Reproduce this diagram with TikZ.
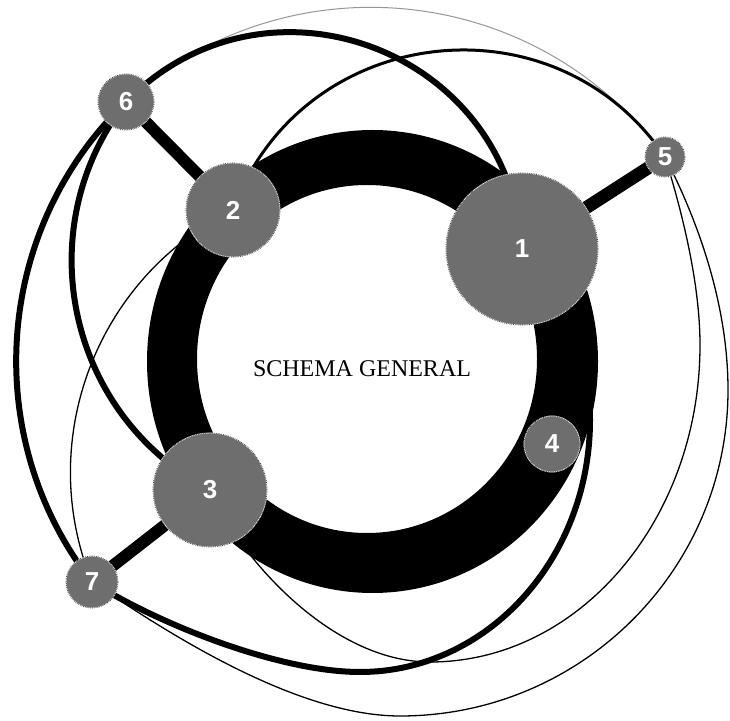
\documentclass[tikz,border=0pt]{standalone}
\usepackage{fontspec}
\setmainfont{Liberation Serif}
\newfontfamily\numfont{Liberation Sans}
\pgfdeclarelayer{bg}
\pgfsetlayers{bg,main}
\definecolor{nodegrey}{RGB}{110,110,110}
\definecolor{arcgrey}{RGB}{150,150,150}
\begin{document}
\begin{tikzpicture}[x=1pt,y=1pt,
  vertex/.style={circle, fill=nodegrey, draw=white, line width=0.8pt, inner sep=0pt,
    text=white, font=\numfont\bfseries\fontsize{26}{26}\selectfont,
    postaction={draw=black!75, densely dotted, line width=0.8pt}},
  spoke/.style={line width=12pt},
  thickarc/.style={line width=6pt},
  medarc/.style={line width=3pt},
  thinarc/.style={line width=1.3pt},
  greyarc/.style={line width=1pt, draw=arcgrey},
  ring/.style={fill=black, even odd rule},
  title/.style={font=\fontsize{24}{24}\selectfont, inner sep=0pt}
]
\useasboundingbox (0,0) rectangle (730,720);

\node[vertex, minimum size=152pt] (n1) at (522,471) {1};
\node[vertex, minimum size=94pt]  (n2) at (233,510) {2};
\node[vertex, minimum size=114pt] (n3) at (210,230) {3};
\node[vertex, minimum size=56pt]  (n4) at (552,276) {4};
\node[vertex, minimum size=40pt]  (n5) at (665,563) {5};
\node[vertex, minimum size=56pt]  (n6) at (126,618) {6};
\node[vertex, minimum size=52pt]  (n7) at (92,138) {7};
\node[title] (t) at (362,351.5) {SCHEMA GENERAL};

\begin{pgfonlayer}{bg}
  \draw[greyarc] (n6.center) to[bend left=48, looseness=1.024] (n5.center);
  \draw[thickarc] (n6.center) to[bend left=66, looseness=1.21] (n1.center);
  \draw[medarc] (n2.center) to[bend left=63, looseness=1.169] (n5.center);
  \draw[thickarc] (n6.center) to[bend right=42, looseness=0.977] (n7.center);
  \draw[thickarc] (n6.center) to[bend right=50, looseness=1.04] (n3.center);
  \draw[thinarc] (n2.center) to[bend right=43, looseness=0.982] (n7.center);
  % 3 -- 5 around the bottom right
  \draw[thinarc] (n3.center) .. controls (238,165) and (330,58) .. (430,58)
     .. controls (579,58) and (700,200) .. (700,375)
     .. controls (700,440) and (680,515) .. (n5.center);
  % 7 -- 5 outermost
  \draw[thinarc] (n7.center) .. controls (152,98) and (290,4) .. (400,4)
     .. controls (581,4) and (728,150) .. (728,330)
     .. controls (728,420) and (695,505) .. (n5.center);
  % 7 -- 1 thick, past node 4
  \draw[thickarc] (n7.center) .. controls (160,95) and (280,48) .. (360,48)
     .. controls (487,48) and (590,161) .. (590,300)
     .. controls (590,370) and (560,430) .. (n1.center);
  \fill[ring] (372.5,358.5) ellipse [x radius=225.5, y radius=231.5] (367,361) ellipse [x radius=170, y radius=174];
  \draw[spoke] (n6.center) -- (n2.center);
  \draw[spoke, line width=13pt] (n1.center) -- (n5.center);
  \draw[spoke] (n3.center) -- (n7.center);
\end{pgfonlayer}
\end{tikzpicture}
\end{document}
